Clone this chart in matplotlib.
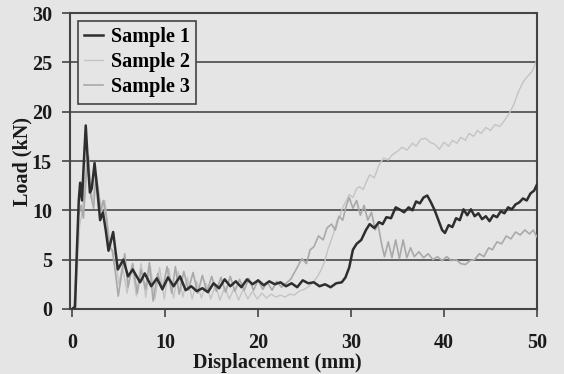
import matplotlib
matplotlib.use("Agg")
import matplotlib.pyplot as plt

# ---- data ----
s1_x = [0, 0.3, 0.5, 0.7, 0.85, 1.05, 1.2, 1.45, 1.7, 1.9, 2.1, 2.4, 2.7, 3.0, 3.3, 3.6, 3.9,
        4.4, 4.9, 5.5, 6.0, 6.5, 7.3, 7.8, 8.5, 9.1, 9.7, 10.3, 10.9, 11.6, 12.2, 12.8, 13.4,
        14.0, 14.6, 15.2, 15.8, 16.4, 17.0, 17.6, 18.2, 18.8, 19.4, 20.0, 20.6, 21.2, 21.8,
        22.4, 23.0, 23.6, 24.2, 24.8, 25.4, 26.0, 26.6, 27.2, 27.8, 28.4, 29.0, 29.4, 29.8,
        30.2, 30.6, 31.1, 31.6, 32.0, 32.5, 33.0, 33.4, 33.8, 34.3, 34.8, 35.2, 35.7, 36.2,
        36.6, 37.0, 37.4, 37.8, 38.2, 38.6, 39.0, 39.4, 39.8, 40.1, 40.5, 40.9, 41.3, 41.7,
        42.1, 42.5, 42.9, 43.3, 43.7, 44.1, 44.5, 44.9, 45.3, 45.7, 46.1, 46.5, 46.9, 47.3,
        47.7, 48.1, 48.5, 48.9, 49.3, 49.7, 50.0]
s1_y = [0, 0.2, 6.0, 11.0, 12.8, 11.0, 14.0, 18.6, 14.5, 11.8, 12.2, 14.8, 12.0, 9.0, 9.8, 8.0, 5.9,
        7.8, 4.0, 5.0, 3.3, 4.0, 2.7, 3.6, 2.3, 3.1, 2.0, 3.2, 2.3, 3.3, 1.9, 2.3, 1.8,
        2.1, 1.7, 2.6, 2.1, 3.0, 2.3, 2.8, 2.2, 3.0, 2.5, 2.9, 2.4, 2.8, 2.5,
        2.7, 2.3, 2.6, 2.2, 2.9, 2.6, 2.7, 2.3, 2.5, 2.2, 2.6, 2.7, 3.2, 4.2,
        6.0, 6.6, 7.0, 8.0, 8.6, 8.2, 8.8, 8.6, 9.3, 9.2, 10.3, 10.1, 9.8, 10.3,
        10.0, 10.9, 10.7, 11.3, 11.5, 10.8, 10.0, 9.0, 8.0, 7.7, 8.5, 8.3, 9.2, 9.0,
        10.1, 9.5, 10.1, 9.4, 9.7, 9.1, 9.4, 8.9, 9.5, 9.3, 9.9, 9.7, 10.3, 10.1,
        10.6, 10.8, 11.2, 11.0, 11.7, 12.0, 12.6]

s2_x = [0, 0.3, 0.6, 0.8, 1.1, 1.35, 1.6, 1.85, 2.1, 2.4, 2.65, 2.9, 3.2, 3.5, 3.8, 4.2, 4.6,
        5.0, 5.4, 5.9, 6.4, 6.9, 7.4, 7.9, 8.4, 8.9, 9.4, 9.9, 10.4, 10.9, 11.4, 11.9, 12.4,
        12.9, 13.4, 13.9, 14.4, 14.9, 15.4, 15.9, 16.4, 16.9, 17.4, 17.9, 18.4, 18.9, 19.4,
        19.9, 20.4, 20.9, 21.4, 21.9, 22.4, 22.9, 23.4, 23.9, 24.4, 25.0, 25.5, 26.0, 26.4,
        26.8, 27.2, 27.5, 27.8, 28.1, 28.5, 28.8, 29.1, 29.5, 29.8, 30.2, 30.6, 30.9, 31.3,
        31.7, 32.0, 32.5, 33.0, 33.5, 34.0, 34.4, 35.0, 35.5, 36.0, 36.6, 37.0, 37.5, 38.0,
        38.5, 39.0, 39.5, 40.0, 40.5, 40.9, 41.4, 41.8, 42.3, 42.7, 43.2, 43.6, 44.0, 44.5,
        45.0, 45.5, 46.0, 46.5, 47.0, 47.5, 48.0, 48.5, 49.0, 49.5, 50.0]
s2_y = [0, 0.5, 5.0, 8.5, 10.0, 13.0, 16.0, 13.5, 11.0, 12.2, 13.0, 11.5, 10.0, 11.0, 8.5, 6.0, 5.5,
        2.5, 4.3, 1.6, 4.4, 1.3, 4.6, 1.2, 4.3, 1.0, 4.2, 1.0, 4.1, 1.1, 3.8, 1.2, 3.2,
        1.0, 2.8, 1.1, 2.6, 1.0, 2.4, 0.9, 2.2, 1.0, 2.1, 0.9, 2.0, 1.0, 1.8,
        1.0, 1.6, 1.1, 1.5, 1.2, 1.4, 1.2, 1.5, 1.4, 1.8, 2.0, 2.3, 2.8, 3.3,
        4.0, 4.9, 6.0, 6.8, 7.6, 9.0, 9.4, 10.3, 11.0, 11.6, 11.3, 12.2, 12.4, 12.1,
        13.0, 13.6, 13.3, 14.6, 15.3, 15.1, 15.6, 16.0, 16.4, 16.1, 16.8, 16.5, 17.2, 17.3,
        16.9, 16.7, 16.2, 16.9, 16.5, 17.1, 16.8, 17.4, 17.1, 17.8, 17.5, 18.1, 17.8, 18.4,
        18.1, 18.7, 18.5, 19.1, 19.8, 20.7, 22.0, 23.0, 23.6, 24.1, 25.3]

s3_x = [0, 0.2, 0.45, 0.7, 0.95, 1.2, 1.5, 1.75, 2.0, 2.3, 2.55, 2.8, 3.05, 3.35, 3.65, 4.0, 4.3,
        4.6, 4.95, 5.3, 5.65, 6.0, 6.5, 7.0, 7.4, 7.9, 8.3, 8.7, 9.2, 9.7, 10.2, 10.7, 11.1,
        11.5, 12.0, 12.5, 13.0, 13.5, 14.0, 14.5, 15.0, 15.5, 16.0, 16.5, 17.0, 17.5, 18.0,
        18.5, 19.0, 19.5, 20.0, 20.5, 21.0, 21.5, 22.0, 22.5, 23.0, 23.5, 24.2, 24.7, 25.2,
        25.6, 26.0, 26.5, 27.0, 27.4, 27.9, 28.3, 28.7, 29.1, 29.5, 29.8, 30.2, 30.6, 31.0,
        31.4, 31.8, 32.2, 32.6, 32.9, 33.3, 33.6, 34.0, 34.4, 34.8, 35.2, 35.6, 36.0, 36.4,
        36.8, 37.3, 37.8, 38.3, 38.8, 39.3, 39.8, 40.3, 40.8, 41.3, 41.8, 42.3, 42.8, 43.3,
        43.8, 44.3, 44.8, 45.2, 45.7, 46.2, 46.7, 47.2, 47.7, 48.2, 48.7, 49.2, 49.6, 50.0]
s3_y = [0, 0.3, 4.5, 9.5, 10.5, 9.2, 13.5, 15.5, 11.5, 10.2, 13.8, 12.0, 10.0, 11.0, 9.5, 6.2, 6.0,
        4.0, 1.3, 3.5, 5.6, 2.2, 4.6, 1.6, 4.0, 2.0, 4.7, 0.8, 3.6, 1.9, 4.3, 1.6, 4.3,
        1.5, 3.8, 1.9, 3.7, 1.6, 3.4, 1.7, 3.3, 1.8, 3.2, 1.7, 3.3, 1.8, 3.0,
        1.9, 3.1, 1.9, 2.9, 2.0, 2.7, 1.9, 2.8, 2.2, 2.6, 3.0, 4.2, 5.1, 4.6,
        6.0, 6.3, 7.4, 7.0, 8.2, 8.6, 8.0, 9.4, 9.0, 10.5, 11.3, 10.2, 11.0, 9.5,
        10.5, 9.0, 9.8, 8.0, 8.6, 6.5, 5.3, 6.8, 5.2, 7.0, 5.1, 7.0, 5.2, 6.2,
        5.3, 5.8, 5.2, 5.6, 5.0, 5.3, 4.9, 5.3, 4.9, 5.0, 4.6, 4.5, 4.9, 5.0,
        5.6, 5.3, 6.2, 6.0, 6.8, 6.6, 7.4, 7.1, 7.8, 7.5, 8.0, 7.6, 8.0, 7.3]

labels = ["Sample 1", "Sample 2", "Sample 3"]
x_ticks = [0, 10, 20, 30, 40, 50]
y_ticks = [0, 5, 10, 15, 20, 25, 30]

# ---- style ----
bg = "#e5e5e5"
fs = 14.5
plt.rcParams["font.family"] = ["Liberation Serif", "DejaVu Serif"]
plt.rcParams["font.weight"] = "bold"

fig = plt.figure(figsize=(5.64, 3.74), dpi=100, facecolor=bg)
ax = fig.add_axes([0.124, 0.174, 0.828, 0.791], facecolor=bg)

for yv in y_ticks[1:-1]:
    ax.axhline(yv, color="#555555", lw=1.3, zorder=1)

ax.plot(s2_x, s2_y, color="#c4c4c4", lw=1.0, label=labels[1], zorder=2)
ax.plot(s3_x, s3_y, color="#a9a9a9", lw=1.2, label=labels[2], zorder=3)
ax.plot(s1_x, s1_y, color="#2e2e2e", lw=1.8, label=labels[0], zorder=4)

ax.set_xlim(-0.25, 50)
ax.set_ylim(0, 30)
ax.set_xticks(x_ticks)
ax.set_yticks(y_ticks)
ax.tick_params(axis="both", direction="out", length=6, width=1.2, color="#444444",
               labelsize=fs)
ax.tick_params(axis="y", pad=7)
ax.tick_params(axis="x", pad=11)
for lab in ax.get_xticklabels() + ax.get_yticklabels():
    lab.set_fontweight("bold")
    lab.set_color("#1a1a1a")
for sp in ax.spines.values():
    sp.set_color("#444444")
    sp.set_linewidth(1.5)

ax.set_xlabel("Displacement (mm)", fontsize=fs, fontweight="bold", color="#1a1a1a")
ax.xaxis.set_label_coords(0.445, -0.148)
ax.set_ylabel("Load (kN)", fontsize=fs, fontweight="bold", color="#1a1a1a")
ax.yaxis.set_label_coords(-0.08, 0.5)

h, l = ax.get_legend_handles_labels()
order = [2, 0, 1]
leg = ax.legend([h[i] for i in order], [l[i] for i in order], loc="upper left",
                bbox_to_anchor=(0.018, 0.972), frameon=True, fancybox=False,
                handlelength=0.9, handletextpad=0.4, borderpad=0.3, labelspacing=0.25,
                borderaxespad=0, prop={"weight": "bold", "size": fs})
leg.get_frame().set_facecolor(bg)
leg.get_frame().set_edgecolor("#444444")
leg.get_frame().set_linewidth(1.2)
leg.get_frame().set_alpha(1)

fig.savefig("out.png", dpi=100, facecolor=bg)
